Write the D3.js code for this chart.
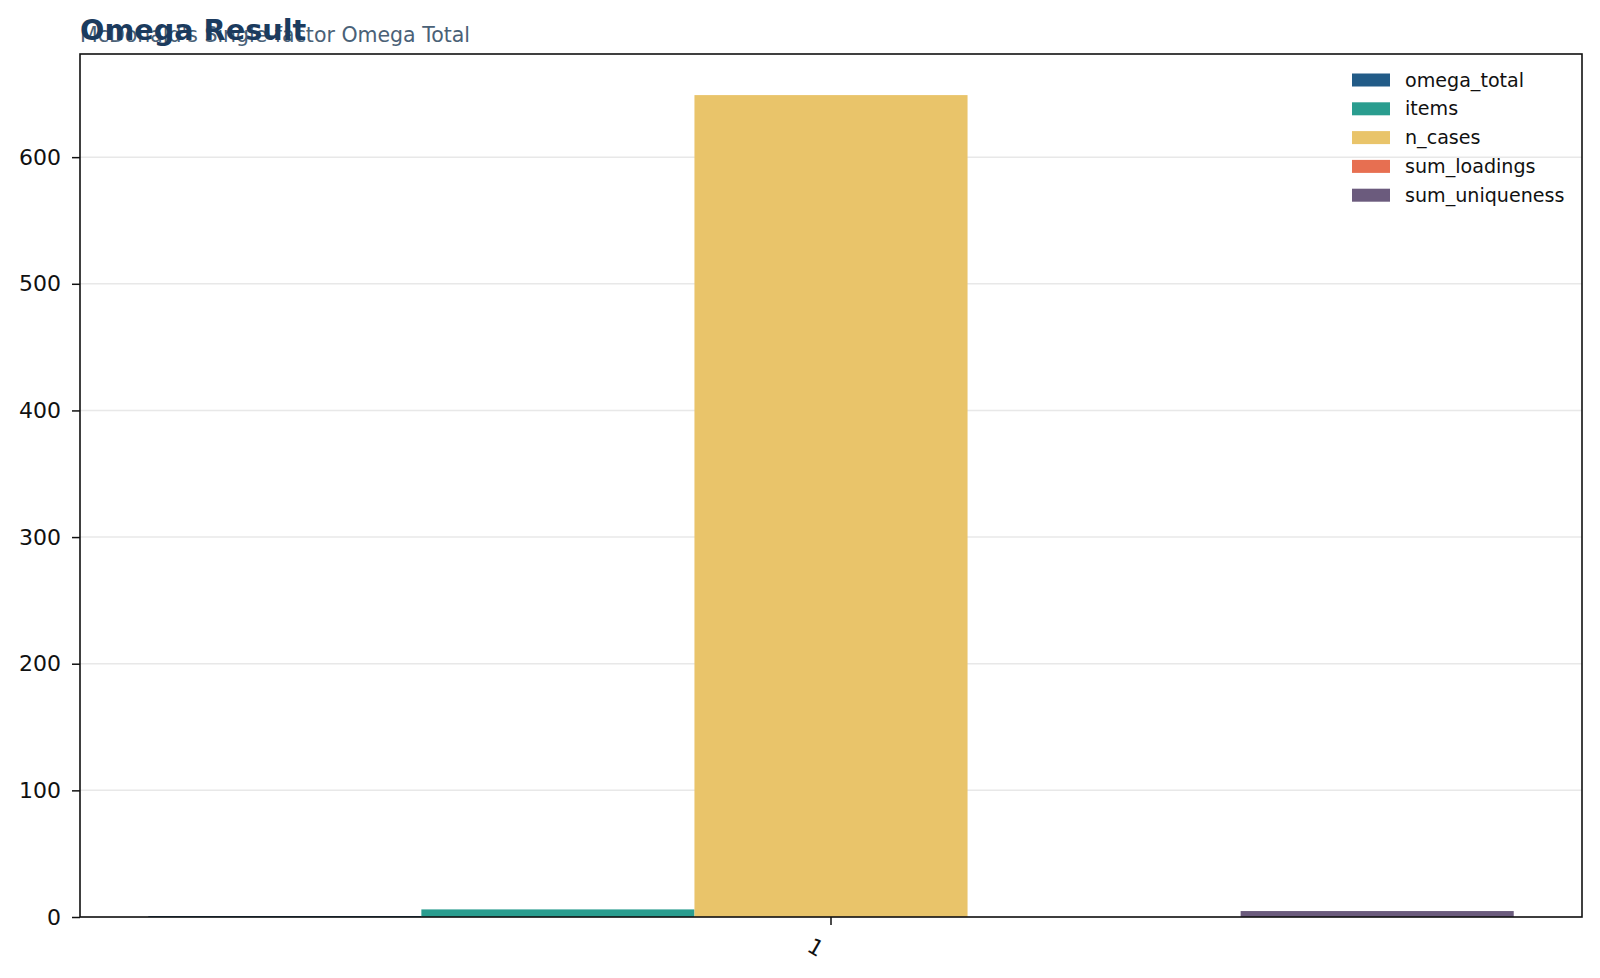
<!DOCTYPE html>
<html>
<head>
<meta charset="utf-8">
<script src="https://cdn.jsdelivr.net/npm/d3@7"></script>
<style>
  html, body { margin: 0; padding: 0; background: #ffffff; }
  svg { display: block; font-family: "DejaVu Sans", sans-serif; }
</style>
</head>
<body>
<svg id="chart" width="1600" height="978"></svg>
<script>
// ---- data ----
const categories = ["1"];
const seriesNames = ["omega_total", "items", "n_cases", "sum_loadings", "sum_uniqueness"];
const seriesValues = [0.78, 6, 649, 0, 4.7];
const seriesColors = ["#225b87", "#2a9d8f", "#e9c46a", "#e76f51", "#6b5b7d"];
const yTicks = [0, 100, 200, 300, 400, 500, 600];
const titleText = "Omega Result";
const subtitleText = "McDonald's Single-factor Omega Total";

// ---- layout ----
const W = 1600, H = 978;
const margin = { top: 54, right: 18, bottom: 61, left: 80 };
const svg = d3.select("#chart");

const x0 = d3.scaleBand()
  .domain(categories)
  .range([margin.left, W - margin.right])
  .paddingInner(0)
  .paddingOuter(0.05);

const x1 = d3.scaleBand()
  .domain(seriesNames)
  .range([0, x0.bandwidth()])
  .padding(0);

const yMax = d3.max(seriesValues) * 1.05;
const y = d3.scaleLinear()
  .domain([0, yMax])
  .range([H - margin.bottom, margin.top]);

// grid
svg.append("g")
  .selectAll("line")
  .data(yTicks)
  .join("line")
  .attr("x1", margin.left)
  .attr("x2", W - margin.right)
  .attr("y1", d => y(d))
  .attr("y2", d => y(d))
  .attr("stroke", "#e8e8e8")
  .attr("stroke-width", 1.5);

// bars
const rows = categories.map(c => seriesNames.map((s, i) => ({ cat: c, key: s, value: seriesValues[i], color: seriesColors[i] })));
svg.append("g")
  .selectAll("g")
  .data(rows)
  .join("g")
  .attr("transform", (d, i) => `translate(${x0(categories[i])},0)`)
  .selectAll("rect")
  .data(d => d)
  .join("rect")
  .attr("x", d => x1(d.key))
  .attr("width", x1.bandwidth())
  .attr("y", d => y(Math.max(0, d.value)))
  .attr("height", d => Math.abs(y(d.value) - y(0)))
  .attr("fill", d => d.color);

// axes
const yAxis = svg.append("g")
  .attr("transform", `translate(${margin.left},0)`)
  .call(d3.axisLeft(y).tickValues(yTicks).tickSize(8).tickPadding(11));
yAxis.select(".domain").remove();
yAxis.selectAll("text").attr("font-size", 22).attr("fill", "#111").attr("font-family", "DejaVu Sans");
yAxis.selectAll("line").attr("stroke", "#111").attr("stroke-width", 1.5);

const xAxis = svg.append("g")
  .attr("transform", `translate(0,${H - margin.bottom})`)
  .call(d3.axisBottom(x0).tickSize(8).tickPadding(6));
xAxis.select(".domain").remove();
xAxis.selectAll("line").attr("stroke", "#111").attr("stroke-width", 1.5);
xAxis.selectAll("text")
  .attr("font-size", 22)
  .attr("fill", "#111")
  .attr("font-family", "DejaVu Sans")
  .attr("text-anchor", "end")
  .attr("dy", "0.75em")
  .attr("transform", "translate(2,14) rotate(30)");

// frame
svg.append("rect")
  .attr("x", margin.left)
  .attr("y", margin.top)
  .attr("width", W - margin.left - margin.right)
  .attr("height", H - margin.top - margin.bottom)
  .attr("fill", "none")
  .attr("stroke", "#111")
  .attr("stroke-width", 1.6);

// legend
const legend = svg.append("g").attr("transform", "translate(1352,80)");
const li = legend.selectAll("g")
  .data(seriesNames)
  .join("g")
  .attr("transform", (d, i) => `translate(0,${i * 28.8})`);
li.append("rect")
  .attr("x", 0).attr("y", -6.5)
  .attr("width", 38).attr("height", 13)
  .attr("fill", (d, i) => seriesColors[i]);
li.append("text")
  .attr("x", 53).attr("y", 0)
  .attr("dy", "0.35em")
  .attr("font-size", 19.1)
  .attr("fill", "#111")
  .text(d => d);

// titles
svg.append("text")
  .attr("x", 80).attr("y", 42)
  .attr("font-size", 20.5)
  .attr("fill", "#4a6177")
  .text(subtitleText);
svg.append("text")
  .attr("x", 80).attr("y", 40)
  .attr("font-size", 28.7)
  .attr("font-weight", "bold")
  .attr("fill", "#1b3b5e")
  .text(titleText);
</script>
</body>
</html>
